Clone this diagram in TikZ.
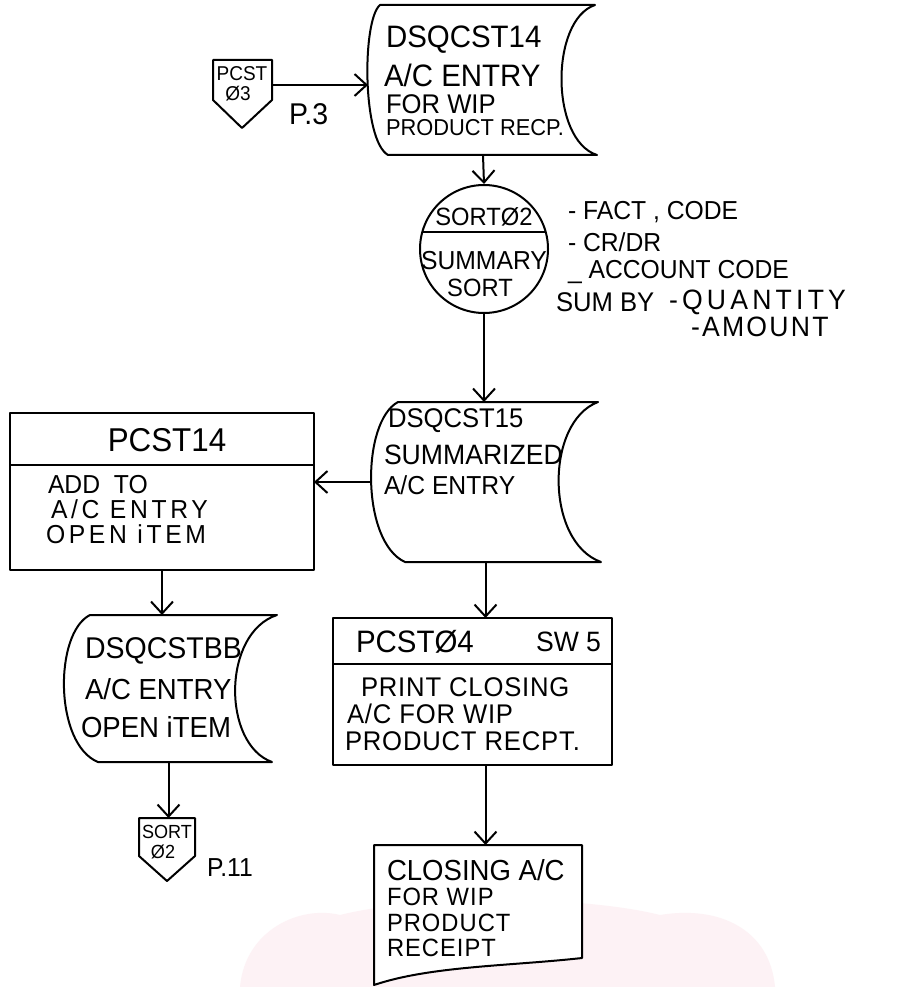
\documentclass[tikz,border=0pt]{standalone}
\usepackage{fontspec}
\setmainfont[FakeStretch=0.95]{Liberation Sans}
\usetikzlibrary{arrows.meta}
\newcommand\fsz[1]{\fontsize{#1}{#1}\selectfont}
\definecolor{wmpink}{RGB}{253,242,245}
\begin{document}
\begin{tikzpicture}[x=1pt,y=-1pt,line width=2pt,line join=round,
  arr/.style={-{Straight Barb[length=12pt,width=22pt]}},
  hold/.style={draw=none,inner sep=0pt,outer sep=0pt},
  boxn/.style={draw,inner sep=0pt,outer sep=0pt},
  txt/.style={inner sep=0pt,anchor=west},
  ctxt/.style={inner sep=0pt}]
\fill[white] (0,0) rectangle (907,987);
\useasboundingbox (0,0) rectangle (907,987);
% faint pink background tint at the bottom
\fill[wmpink] (240,987) .. controls (245,930) and (300,905) .. (340,915) .. controls (420,895) and (580,895) .. (660,915) .. controls (720,905) and (770,930) .. (775,987) -- cycle;

% off-page connector PCST 03
\node[hold,minimum width=59pt,minimum height=50pt] (c03) at (242.5,85) {};
\draw (213,60) -- (272,60) -- (272,100) -- (242,128) -- (213,100) -- cycle;
\node[ctxt,font=\fsz{20}] (c03a) at (242,74) {PCST};
\node[ctxt,font=\fsz{20}] (c03b) at (238,94) {Ø3};
\node[txt,font=\fsz{30}] (c03p) at (288,114) {P.3};

% DSQCST14
\node[hold,minimum width=230pt,minimum height=150pt] (d14) at (483,80) {};
\draw (380,5) -- (595,5) .. controls (550,20) and (550,140) .. (597,155) -- (388,155) .. controls (362,140) and (362,20) .. (380,5) -- cycle;
\node[txt,font=\fsz{31}] (d14a) at (385,40) {DSQCST14};
\node[txt,font=\fsz{31}] (d14b) at (383,75) {A/C ENTRY};
\node[txt,font=\fsz{27}] (d14c) at (385,104) {FOR WIP};
\node[txt,font=\fsz{23}] (d14d) at (385,128) {PRODUCT RECP.};

% SORT02
\node[draw,circle,minimum size=128pt,inner sep=0pt] (srt) at (484,249) {};
\node[ctxt,font=\fsz{25}] (srta) at (484,217) {SORTØ2};
\draw (423,232) -- (545,232);
\node[ctxt,font=\fsz{26}] (srtb) at (484,261) {SUMMARY};
\node[ctxt,font=\fsz{25}] (srtc) at (480,288) {SORT};

% notes
\node[txt,font=\fsz{26}] (n1) at (567,212) {- FACT , CODE};
\node[txt,font=\fsz{26}] (n2) at (567,242) {- CR/DR};
\node[txt,font=\fsz{26}] (n3) at (567,272) {\_ ACCOUNT CODE};
\node[txt,font=\fsz{27}] (n4) at (555,302) {SUM BY};
\node[txt,font=\fsz{28}\addfontfeature{LetterSpace=15}] (n5) at (668,302) {-QUANTITY};
\node[txt,font=\fsz{28}\addfontfeature{LetterSpace=8}] (n6) at (690,327) {-AMOUNT};

% DSQCST15
\node[hold,minimum width=229pt,minimum height=160pt] (d15) at (485.5,482) {};
\draw (398,402) -- (598,402) .. controls (545,422) and (545,542) .. (601,562) -- (405,562) .. controls (361,542) and (361,422) .. (398,402) -- cycle;
\node[txt,font=\fsz{27}] (d15a) at (387,421) {DSQCST15};
\node[txt,font=\fsz{28}] (d15b) at (383,455) {SUMMARIZED};
\node[txt,font=\fsz{26}] (d15c) at (383,485) {A/C ENTRY};

% PCST14
\node[boxn,minimum width=304pt,minimum height=157pt] (p14) at (162,491.5) {};
\draw (10,465) -- (314,465);
\node[ctxt,font=\fsz{33}] (p14a) at (167,440) {PCST14};
\node[txt,font=\fsz{26}] (p14b) at (47,485) {ADD\ \ TO};
\node[txt,font=\fsz{26}\addfontfeature{LetterSpace=14}] (p14c) at (50,509) {A/C ENTRY};
\node[txt,font=\fsz{26}\addfontfeature{LetterSpace=14}] (p14d) at (45,534) {OPEN iTEM};

% DSQCSTBB
\node[hold,minimum width=217pt,minimum height=147pt] (dbb) at (168.5,688.5) {};
\draw (90,615) -- (277,615) .. controls (222,633) and (222,744) .. (272,762) -- (98,762) .. controls (54,744) and (54,633) .. (90,615) -- cycle;
\node[txt,font=\fsz{30}] (dbba) at (84,651) {DSQCSTBB};
\node[txt,font=\fsz{29}] (dbbb) at (84,689) {A/C ENTRY};
\node[txt,font=\fsz{29}] (dbbc) at (80,727) {OPEN iTEM};

% SORT 02 connector
\node[hold,minimum width=56pt,minimum height=38pt] (c02) at (167,837) {};
\draw (139,818) -- (195,818) -- (195,856) -- (167,881) -- (139,856) -- cycle;
\node[ctxt,font=\fsz{19}] (c02a) at (167,832) {SORT};
\node[ctxt,font=\fsz{19}] (c02b) at (163,852) {Ø2};
\node[txt,font=\fsz{26}] (c02p) at (206,868) {P.11};

% PCST04
\node[boxn,minimum width=279pt,minimum height=147pt] (p04) at (472.5,691.5) {};
\draw (333,664) -- (612,664);
\node[txt,font=\fsz{31}] (p04a) at (355,642) {PCSTØ4};
\node[txt,font=\fsz{28}] (p04b) at (535,642) {SW 5};
\node[txt,font=\fsz{27}\addfontfeature{LetterSpace=3}] (p04c) at (360,687) {PRINT CLOSING};
\node[txt,font=\fsz{27}\addfontfeature{LetterSpace=3}] (p04d) at (346,714) {A/C FOR WIP};
\node[txt,font=\fsz{27}\addfontfeature{LetterSpace=3}] (p04e) at (344,741) {PRODUCT RECPT.};

% report document
\node[hold,minimum width=208pt,minimum height=140pt] (doc) at (478,915) {};
\draw[fill=white] (374,845) -- (582,845) -- (582,958) .. controls (510,966) and (430,966) .. (374,985) -- cycle;
\node[txt,font=\fsz{29}] (doca) at (386,870) {CLOSING A/C};
\node[txt,font=\fsz{25}\addfontfeature{LetterSpace=4}] (docb) at (386,897) {FOR WIP};
\node[txt,font=\fsz{25}\addfontfeature{LetterSpace=4}] (docc) at (386,922.5) {PRODUCT};
\node[txt,font=\fsz{25}\addfontfeature{LetterSpace=4}] (docd) at (386,948) {RECEIPT};

% connectors
\draw[arr] (c03.east) -- (c03.east -| d14.west);
\draw[arr] (d14.south) -- (srt.north);
\draw[arr] (srt.south) -- (srt.south |- d15.north);
\draw[arr] (d15.west) -- (d15.west -| p14.east);
\draw[arr] (p14.south) -- (p14.south |- dbb.north);
\draw[arr] (dbb.south) -- (dbb.south |- c02.north);
\draw[arr] (d15.south) -- (d15.south |- p04.north);
\draw[arr] (d15.south |- p04.south) -- (d15.south |- doc.north);
\end{tikzpicture}
\end{document}
